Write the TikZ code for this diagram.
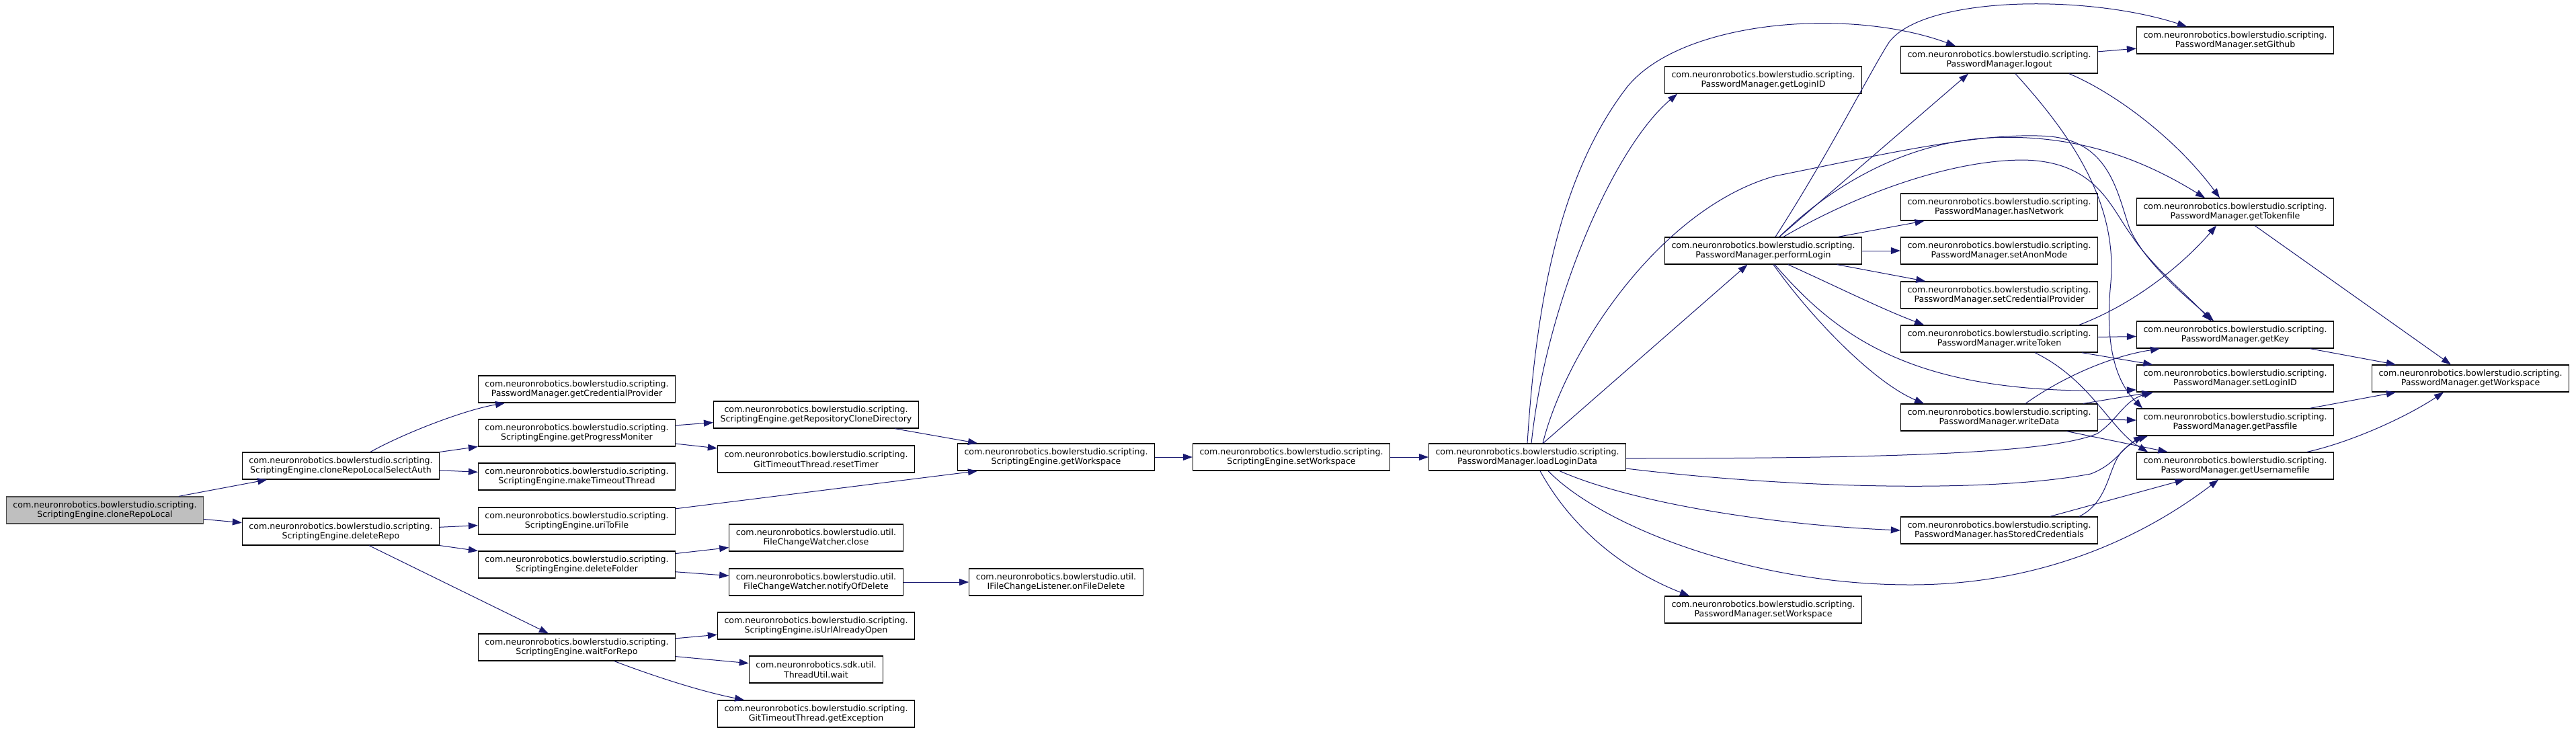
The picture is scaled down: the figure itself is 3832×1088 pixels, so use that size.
\documentclass[tikz,border=0pt]{standalone}
\usepackage{fontspec}
\setmainfont{DejaVu Sans}
\usepackage{tikz}
\usetikzlibrary{arrows.meta}
\usepackage{xcolor}
\definecolor{midblue}{RGB}{25, 25, 112}
\definecolor{rootgray}{RGB}{191, 191, 191}

\begin{document}
\begin{tikzpicture}[
    x=1pt, y=-1pt,
    fn/.style={rectangle, draw=black, line width=1.3pt, fill=white, align=center,
        inner xsep=10pt, inner ysep=0pt, minimum height=40pt,
        font=\fontsize{12.6}{14.7}\selectfont},
    rootfn/.style={fn, fill=rootgray, draw=black!70},
    call/.style={draw=midblue, line width=1pt, -{Triangle[length=14pt, width=10pt]}}
]
    \path[use as bounding box, fill=white] (0,0) rectangle (3832,1088);

    % Root and its direct callees
    \node[rootfn] (root) at (156, 759) {com.neuronrobotics.bowlerstudio.scripting.\\ScriptingEngine.cloneRepoLocal};
    \node[fn] (selAuth) at (507, 693) {com.neuronrobotics.bowlerstudio.scripting.\\ScriptingEngine.cloneRepoLocalSelectAuth};
    \node[fn] (delRepo) at (507, 791) {com.neuronrobotics.bowlerstudio.scripting.\\ScriptingEngine.deleteRepo};

    % Third column
    \node[fn] (getCred) at (858, 579) {com.neuronrobotics.bowlerstudio.scripting.\\PasswordManager.getCredentialProvider};
    \node[fn] (getProg) at (858, 644) {com.neuronrobotics.bowlerstudio.scripting.\\ScriptingEngine.getProgressMoniter};
    \node[fn] (mkTimeout) at (858, 709) {com.neuronrobotics.bowlerstudio.scripting.\\ScriptingEngine.makeTimeoutThread};
    \node[fn] (uriFile) at (858, 775) {com.neuronrobotics.bowlerstudio.scripting.\\ScriptingEngine.uriToFile};
    \node[fn] (delFolder) at (858, 840) {com.neuronrobotics.bowlerstudio.scripting.\\ScriptingEngine.deleteFolder};
    \node[fn] (waitRepo) at (858, 963) {com.neuronrobotics.bowlerstudio.scripting.\\ScriptingEngine.waitForRepo};

    % Fourth column
    \node[fn] (getCloneDir) at (1214, 617) {com.neuronrobotics.bowlerstudio.scripting.\\ScriptingEngine.getRepositoryCloneDirectory};
    \node[fn] (resetTimer) at (1214, 683) {com.neuronrobotics.bowlerstudio.scripting.\\GitTimeoutThread.resetTimer};
    \node[fn] (fcClose) at (1214, 800) {com.neuronrobotics.bowlerstudio.util.\\FileChangeWatcher.close};
    \node[fn] (fcNotify) at (1214, 866) {com.neuronrobotics.bowlerstudio.util.\\FileChangeWatcher.notifyOfDelete};
    \node[fn] (urlOpen) at (1214, 931) {com.neuronrobotics.bowlerstudio.scripting.\\ScriptingEngine.isUrlAlreadyOpen};
    \node[fn] (tuWait) at (1214, 996) {com.neuronrobotics.sdk.util.\\ThreadUtil.wait};
    \node[fn] (getExc) at (1214, 1062) {com.neuronrobotics.bowlerstudio.scripting.\\GitTimeoutThread.getException};

    % Workspace chain
    \node[fn] (seGetWs) at (1571, 680) {com.neuronrobotics.bowlerstudio.scripting.\\ScriptingEngine.getWorkspace};
    \node[fn] (onDelete) at (1571, 866) {com.neuronrobotics.bowlerstudio.util.\\IFileChangeListener.onFileDelete};
    \node[fn] (seSetWs) at (1921, 680) {com.neuronrobotics.bowlerstudio.scripting.\\ScriptingEngine.setWorkspace};
    \node[fn] (loadLogin) at (2272, 680) {com.neuronrobotics.bowlerstudio.scripting.\\PasswordManager.loadLoginData};

    % PasswordManager callees
    \node[fn] (getLoginID) at (2623, 119) {com.neuronrobotics.bowlerstudio.scripting.\\PasswordManager.getLoginID};
    \node[fn] (perf) at (2623, 373) {com.neuronrobotics.bowlerstudio.scripting.\\PasswordManager.performLogin};
    \node[fn] (pmSetWs) at (2623, 907) {com.neuronrobotics.bowlerstudio.scripting.\\PasswordManager.setWorkspace};

    \node[fn] (logout) at (2974, 89) {com.neuronrobotics.bowlerstudio.scripting.\\PasswordManager.logout};
    \node[fn] (hasNetwork) at (2974, 308) {com.neuronrobotics.bowlerstudio.scripting.\\PasswordManager.hasNetwork};
    \node[fn] (setAnonMode) at (2974, 373) {com.neuronrobotics.bowlerstudio.scripting.\\PasswordManager.setAnonMode};
    \node[fn] (setCredProv) at (2974, 439) {com.neuronrobotics.bowlerstudio.scripting.\\PasswordManager.setCredentialProvider};
    \node[fn] (writeToken) at (2974, 504) {com.neuronrobotics.bowlerstudio.scripting.\\PasswordManager.writeToken};
    \node[fn] (writeData) at (2974, 621) {com.neuronrobotics.bowlerstudio.scripting.\\PasswordManager.writeData};
    \node[fn] (hasStored) at (2974, 789) {com.neuronrobotics.bowlerstudio.scripting.\\PasswordManager.hasStoredCredentials};

    \node[fn] (setGithub) at (3325, 60) {com.neuronrobotics.bowlerstudio.scripting.\\PasswordManager.setGithub};
    \node[fn] (getTokenfile) at (3325, 315) {com.neuronrobotics.bowlerstudio.scripting.\\PasswordManager.getTokenfile};
    \node[fn] (getKey) at (3325, 498) {com.neuronrobotics.bowlerstudio.scripting.\\PasswordManager.getKey};
    \node[fn] (setLoginID) at (3325, 563) {com.neuronrobotics.bowlerstudio.scripting.\\PasswordManager.setLoginID};
    \node[fn] (getPassfile) at (3325, 628) {com.neuronrobotics.bowlerstudio.scripting.\\PasswordManager.getPassfile};
    \node[fn] (getUserfile) at (3325, 693) {com.neuronrobotics.bowlerstudio.scripting.\\PasswordManager.getUsernamefile};

    \node[fn] (pmGetWs) at (3675, 563) {com.neuronrobotics.bowlerstudio.scripting.\\PasswordManager.getWorkspace};

    % Straight calls
    \foreach \a/\b in {root/selAuth, root/delRepo, selAuth/getProg, selAuth/mkTimeout,
        delRepo/uriFile, delRepo/delFolder, delRepo/waitRepo, getProg/getCloneDir,
        getProg/resetTimer, getCloneDir/seGetWs, delFolder/fcClose, delFolder/fcNotify,
        fcNotify/onDelete, waitRepo/urlOpen, waitRepo/tuWait, seGetWs/seSetWs,
        seSetWs/loadLogin, loadLogin/perf, perf/hasNetwork, perf/setAnonMode,
        perf/setCredProv, logout/setGithub, writeToken/getKey, writeToken/setLoginID,
        writeData/setLoginID, writeData/getPassfile, writeData/getUserfile,
        hasStored/getUserfile, getTokenfile/pmGetWs, getKey/pmGetWs, getPassfile/pmGetWs} {
        \draw[call] (\a) -- (\b);
    }
    \draw[call] (uriFile) -- ([xshift=-117pt]seGetWs.south);
    \draw[call] (perf) -- ([xshift=-46pt]logout.south);

    % Curved calls, left part
    \draw[call] ([xshift=44pt]selAuth.north) .. controls (600,645) and (690,610) .. ([xshift=-107pt]getCred.south);
    \draw[call] ([xshift=56pt]waitRepo.south) .. controls (970,1005) and (1040,1028) .. ([xshift=-107pt]getExc.north);

    % Curved calls from loadLoginData
    \draw[call] (loadLogin.north) .. controls (2285,450) and (2320,260) .. (2420,130)
        .. controls (2500,30) and (2750,10) .. ([xshift=-65pt]logout.north);
    \draw[call] ([xshift=6pt]loadLogin.north) .. controls (2300,450) and (2400,220) .. ([xshift=-128pt]getLoginID.south);
    \draw[call] ([xshift=23pt]loadLogin.north) .. controls (2330,520) and (2470,310) .. (2640,262)
        .. controls (2800,230) and (2950,195) .. (3050,203)
        .. controls (3140,212) and (3150,290) .. (3168,340)
        .. controls (3190,390) and (3250,440) .. ([xshift=-32pt]getKey.north);
    \draw[call] ([yshift=-2pt]loadLogin.east) .. controls (2800,682) and (3050,675) .. (3120,645)
        .. controls (3150,625) and (3160,595) .. ([xshift=-122pt]setLoginID.south);
    \draw[call] ([yshift=-17pt]loadLogin.east) .. controls (2650,725) and (2950,735) .. (3110,705)
        .. controls (3150,690) and (3160,660) .. ([xshift=-130pt]getPassfile.south);
    \draw[call] ([xshift=48pt]loadLogin.south) .. controls (2420,745) and (2620,780) .. (hasStored.west);
    \draw[call] ([xshift=31pt]loadLogin.south) .. controls (2380,780) and (2600,870) .. (2842,870)
        .. controls (3050,870) and (3200,790) .. ([xshift=-25pt]getUserfile.south);
    \draw[call] ([xshift=19pt]loadLogin.south) .. controls (2340,790) and (2420,850) .. ([xshift=-110pt]pmSetWs.north);

    % Curved calls from performLogin
    \draw[call] ([xshift=18pt]perf.north) .. controls (2720,230) and (2780,110) .. (2810,63)
        .. controls (2860,-5) and (3100,-10) .. ([xshift=-72pt]setGithub.north);
    \draw[call] ([xshift=24pt]perf.north) .. controls (2720,280) and (2830,212) .. (2960,205)
        .. controls (3100,198) and (3200,245) .. ([xshift=-45pt]getTokenfile.north);
    \draw[call] ([xshift=30pt]perf.north) .. controls (2760,290) and (2900,238) .. (3010,238)
        .. controls (3120,240) and (3140,310) .. (3172,352)
        .. controls (3200,395) and (3255,440) .. ([xshift=-36pt]getKey.north);
    \draw[call] ([xshift=37pt]perf.south) .. controls (2740,430) and (2800,460) .. ([xshift=-112pt]writeToken.north);
    \draw[call] ([xshift=15pt]perf.south) .. controls (2700,480) and (2790,570) .. ([xshift=-112pt]writeData.north);
    \draw[call] ([xshift=17pt]perf.south) .. controls (2740,510) and (2860,590) .. ([yshift=-17pt]setLoginID.west);

    % Remaining curved calls
    \draw[call] ([xshift=104pt]logout.south) .. controls (3150,140) and (3240,210) .. ([xshift=-23pt]getTokenfile.north);
    \draw[call] ([xshift=24pt]logout.south) .. controls (3080,200) and (3150,300) .. (3140,420)
        .. controls (3130,520) and (3150,570) .. ([xshift=-138pt]getPassfile.north);
    \draw[call] ([xshift=119pt]writeToken.north) .. controls (3180,450) and (3250,390) .. ([xshift=-28pt]getTokenfile.south);
    \draw[call] ([xshift=53pt]writeToken.south) .. controls (3110,565) and (3140,640) .. ([xshift=-130pt]getUserfile.north);
    \draw[call] ([xshift=39pt]writeData.north) .. controls (3070,560) and (3140,530) .. ([xshift=-112pt]getKey.south);
    \draw[call] ([xshift=119pt]hasStored.north) .. controls (3140,745) and (3135,690) .. (3160,668)
        .. controls (3170,660) and (3180,653) .. ([xshift=-137pt]getPassfile.south);
    \draw[call] ([xshift=107pt]getUserfile.north) .. controls (3500,657) and (3580,620) .. ([xshift=-40pt]pmGetWs.south);
\end{tikzpicture}
\end{document}
